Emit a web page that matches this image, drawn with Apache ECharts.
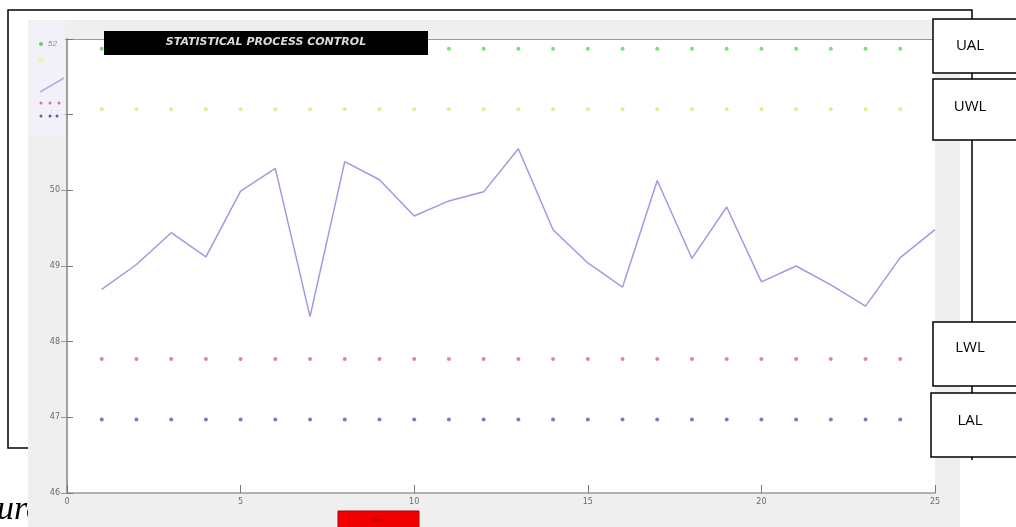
<!DOCTYPE html>
<html>
<head>
<meta charset="utf-8">
<script src="https://cdn.jsdelivr.net/npm/echarts@6/dist/echarts.min.js"></script>
<style>
  html, body { margin: 0; padding: 0; background: #fff; }
  #spc { width: 1016px; height: 527px; }
</style>
</head>
<body>
<div id="spc"></div>
<script>
var samples = [1, 2, 3, 4, 5, 6, 7, 8, 9, 10, 11, 12, 13, 14, 15, 16, 17, 18, 19, 20, 21, 22, 23, 24, 25];
var measured = [48.69, 49.02, 49.44, 49.12, 49.99, 50.29, 48.33, 50.38, 50.14, 49.66, 49.86, 49.98, 50.55,
                49.48, 49.04, 48.72, 50.13, 49.10, 49.78, 48.79, 49.00, 48.75, 48.47, 49.11, 49.48];

// control limits
var limitNames = ['UAL', 'UWL', 'LWL', 'LAL'];
var limitValues = [51.87, 51.07, 47.77, 46.97];
var limitColors = ['#62cf62', '#e4e47a', '#c9707e', '#5b5ba8'];

var axisGray = '#9a9a9a';
var labelStyle = { color: '#6a6a6a', fontSize: 8, fontFamily: 'DejaVu Sans' };

var limitSeries = limitNames.map(function (name, k) {
    return {
        name: name,
        type: 'scatter',
        z: 12,
        symbol: 'circle',
        symbolSize: 4,
        itemStyle: { color: limitColors[k] },
        data: samples.map(function (x) { return [x, limitValues[k]]; })
    };
});

// little pale legend blob at the top left corner
var legendBits = [
    { type: 'rect', shape: { x: 29, y: 21, width: 36, height: 114 }, style: { fill: 'rgba(242,240,250,0.9)' }, z: 20 },
    { type: 'circle', shape: { cx: 41, cy: 44, r: 2 }, style: { fill: '#62cf62' }, z: 21 },
    { type: 'circle', shape: { cx: 41, cy: 60, r: 3 }, style: { fill: '#f3f0b8' }, z: 21 },
    { type: 'line', shape: { x1: 40, y1: 92, x2: 64, y2: 78 }, style: { stroke: '#b0b0e6', lineWidth: 1.5 }, z: 21 },
    { type: 'circle', shape: { cx: 41, cy: 103, r: 1.5 }, style: { fill: '#d07a8a' }, z: 21 },
    { type: 'circle', shape: { cx: 50, cy: 103, r: 1.5 }, style: { fill: '#d07a8a' }, z: 21 },
    { type: 'circle', shape: { cx: 59, cy: 103, r: 1.5 }, style: { fill: '#d07a8a' }, z: 21 },
    { type: 'circle', shape: { cx: 41, cy: 116, r: 1.5 }, style: { fill: '#5b5ba8' }, z: 21 },
    { type: 'circle', shape: { cx: 50, cy: 116, r: 1.5 }, style: { fill: '#5b5ba8' }, z: 21 },
    { type: 'circle', shape: { cx: 57, cy: 116, r: 1.5 }, style: { fill: '#5b5ba8' }, z: 21 },
    { type: 'text', style: { x: 48, y: 44, text: '52', fill: '#888', fontSize: 8, fontStyle: 'italic', verticalAlign: 'middle' }, z: 22 }
];

// annotation boxes on the right
var boxes = [
    { label: 'UAL', x: 933, y: 19, h: 54, ty: 46 },
    { label: 'UWL', x: 933, y: 79, h: 61, ty: 107 },
    { label: 'LWL', x: 933, y: 322, h: 64, ty: 348 },
    { label: 'LAL', x: 931, y: 393, h: 64, ty: 421 }
];
var boxGraphics = [];
boxes.forEach(function (b) {
    boxGraphics.push({
        type: 'rect', z: 30,
        shape: { x: b.x, y: b.y, width: 1016 - b.x + 4, height: b.h },
        style: { fill: '#fff', stroke: '#000', lineWidth: 1.5 }
    });
    boxGraphics.push({
        type: 'text', z: 31,
        style: { x: 970, y: b.ty, text: b.label, fill: '#000', fontSize: 15, fontFamily: 'Open Sans',
                 align: 'center', verticalAlign: 'middle' }
    });
});

var option = {
    animation: false,
    backgroundColor: '#fff',
    grid: { left: 67, top: 39, width: 868, height: 454, show: false },
    xAxis: [{
        type: 'value', min: 0, max: 25, interval: 5, z: 10,
        axisLine: { lineStyle: { color: axisGray, width: 1.5 } },
        axisTick: { inside: true, length: 8, lineStyle: { color: '#777' } },
        axisLabel: Object.assign({ margin: 5 }, labelStyle),
        splitLine: { show: false }
    }, {
        type: 'value', position: 'top', min: 0, max: 25, interval: 5, z: 10,
        axisLine: { lineStyle: { color: axisGray, width: 1 } },
        axisTick: { show: false }, axisLabel: { show: false }, splitLine: { show: false }
    }],
    yAxis: [{
        type: 'value', min: 46, max: 52, interval: 1, z: 10,
        axisLine: { show: true, lineStyle: { color: axisGray, width: 1.5 } },
        axisTick: { show: true, inside: true, length: 6, lineStyle: { color: '#777' } },
        axisLabel: Object.assign({ margin: 7 }, labelStyle, { formatter: function (v) { return v === 52 ? '' : v; } }),
        splitLine: { show: false }
    }, {
        type: 'value', position: 'right', min: 46, max: 52, interval: 1, z: 10,
        axisLine: { show: true, lineStyle: { color: axisGray, width: 1.5 } },
        axisTick: { show: true, inside: true, length: 6, lineStyle: { color: '#999' } },
        axisLabel: { show: false }, splitLine: { show: false }
    }],
    series: [{
        name: 'data',
        type: 'line',
        z: 12,
        symbol: 'none',
        lineStyle: { color: '#9c9ce2', width: 1.5 },
        data: samples.map(function (x, i) { return [x, measured[i]]; })
    }].concat(limitSeries),
    graphic: [
        // annotation outline (sits under the figure window)
        { type: 'polyline', z: 1, shape: { points: [[28, 448], [8, 448], [8, 10], [972, 10], [972, 460]] },
          style: { stroke: '#000', lineWidth: 1.5, fill: null } },
        // "Figure" caption peeking out at bottom-left
        { type: 'text', z: 1, style: { x: -3, y: 527, text: 'ure', fill: '#000', fontSize: 34,
          fontFamily: 'Liberation Serif', fontStyle: 'italic', verticalAlign: 'bottom' } },
        // figure window and white axes area
        { type: 'rect', z: 2, shape: { x: 28, y: 20, width: 932, height: 507 }, style: { fill: '#efefef' } },
        { type: 'rect', z: 3, shape: { x: 67, y: 39, width: 868, height: 454 }, style: { fill: '#fff' } },
        // title bar
        { type: 'rect', z: 25, shape: { x: 104, y: 31, width: 324, height: 24 }, style: { fill: '#000' } },
        { type: 'text', z: 26, style: { x: 266, y: 42, text: 'STATISTICAL PROCESS CONTROL', fill: '#dcdcdc',
          fontSize: 11, fontWeight: 'bold', fontStyle: 'italic', fontFamily: 'DejaVu Sans',
          align: 'center', verticalAlign: 'middle' } },
        // red button
        { type: 'rect', z: 25, shape: { x: 338, y: 511, width: 81, height: 18 }, style: { fill: '#f00000', stroke: '#b00000', lineWidth: 1 } },
        { type: 'text', z: 26, style: { x: 378, y: 520, text: 'Start', fill: '#900', fontSize: 6,
          align: 'center', verticalAlign: 'middle' } }
    ].concat(legendBits).concat(boxGraphics)
};

var myChart = echarts.init(document.getElementById('spc'));
myChart.setOption(option);
</script>
</body>
</html>
